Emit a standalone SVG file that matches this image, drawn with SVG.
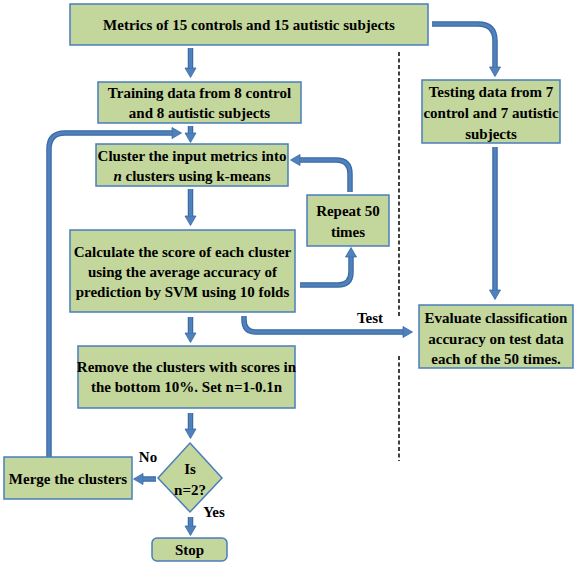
<svg xmlns="http://www.w3.org/2000/svg" width="577" height="566" viewBox="0 0 577 566">
<style>
.b{fill:#c3d69b;stroke:#4a7ebb;stroke-width:1.5}
.t{font-family:"Liberation Serif","Times New Roman",serif;font-weight:bold;font-size:15px;fill:#000;text-anchor:middle}
.o{fill:none;stroke:#3a6aa3;stroke-width:5.5}
.i{fill:none;stroke:#4f81bd;stroke-width:3.2}
.d{fill:none;stroke:#000;stroke-width:1.5;stroke-dasharray:4 2.5}
</style>
<defs>
<marker id="ah" viewBox="-1 -7 12 14" refX="0" refY="0" markerWidth="12" markerHeight="14" orient="auto" markerUnits="userSpaceOnUse">
<path d="M0,-5.5 L9.5,0 L0,5.5 z" fill="#4f81bd" stroke="#3a6aa3" stroke-width="0.8"/>
</marker>
</defs>
<rect width="577" height="566" fill="#fff"/>
<g id="connectors">
<path class="o" marker-end="url(#ah)" d="M190.5,48 V68"/><path class="i" d="M190.5,48 V68"/>
<path class="o" marker-end="url(#ah)" d="M432,24 H478 Q495,24 495,41 V67"/><path class="i" d="M432,24 H478 Q495,24 495,41 V67"/>
<path class="o" marker-end="url(#ah)" d="M190.5,126 V133"/><path class="i" d="M190.5,126 V133"/>
<path class="o" marker-end="url(#ah)" d="M49,457 V149 Q49,133 65,133 H172"/><path class="i" d="M49,457 V149 Q49,133 65,133 H172"/>
<path class="o" marker-end="url(#ah)" d="M190.5,189 V216"/><path class="i" d="M190.5,189 V216"/>
<path class="o" marker-end="url(#ah)" d="M300,285 H338 Q351,285 351,272 V257"/><path class="i" d="M300,285 H338 Q351,285 351,272 V257"/>
<path class="o" marker-end="url(#ah)" d="M350,192 V174 Q350,160 336,160 H300"/><path class="i" d="M350,192 V174 Q350,160 336,160 H300"/>
<path class="o" marker-end="url(#ah)" d="M244,316 V320 Q244,332 256,332 H403"/><path class="i" d="M244,316 V320 Q244,332 256,332 H403"/>
<path class="o" marker-end="url(#ah)" d="M495,147 V290"/><path class="i" d="M495,147 V290"/>
<path class="o" marker-end="url(#ah)" d="M190.5,317 V333"/><path class="i" d="M190.5,317 V333"/>
<path class="o" marker-end="url(#ah)" d="M190.5,413 V429"/><path class="i" d="M190.5,413 V429"/>
<path class="o" marker-end="url(#ah)" d="M156,479 H143"/><path class="i" d="M156,479 H143"/>
<path class="o" marker-end="url(#ah)" d="M190.5,517 V526"/><path class="i" d="M190.5,517 V526"/>
<path class="d" d="M399,52 V316 M399,356 V461"/>
<text class="t" x="370" y="323">Test</text>
<text class="t" x="148" y="462">No</text>
<text class="t" x="214" y="517">Yes</text>
</g>
<g id="metrics"><rect class="b" x="70" y="4" width="358" height="41"/><text class="t" x="249" y="30">Metrics of 15 controls and 15 autistic subjects</text></g>
<g id="training"><rect class="b" x="98" y="82" width="203" height="41"/><text class="t" x="199.5" y="97.5">Training data from 8 control</text><text class="t" x="199.5" y="118">and 8 autistic subjects</text></g>
<g id="testing"><rect class="b" x="422" y="80" width="138" height="63"/><text class="t" x="491" y="97">Testing data from 7</text><text class="t" x="491" y="118">control and 7 autistic</text><text class="t" x="491" y="138.5">subjects</text></g>
<g id="cluster"><rect class="b" x="96" y="144" width="192" height="42"/><text class="t" x="192" y="161">Cluster the input metrics into</text><text class="t" x="192" y="181"><tspan font-style="italic">n</tspan> clusters using k-means</text></g>
<g id="repeat"><rect class="b" x="307" y="195" width="82" height="51"/><text class="t" x="348" y="216">Repeat 50</text><text class="t" x="348" y="237">times</text></g>
<g id="calculate"><rect class="b" x="70" y="230" width="225" height="82"/><text class="t" x="182.5" y="257">Calculate the score of each cluster</text><text class="t" x="182.5" y="277">using the average accuracy of</text><text class="t" x="182.5" y="297">prediction by SVM using 10 folds</text></g>
<g id="evaluate"><rect class="b" x="419" y="305" width="154" height="63"/><text class="t" x="496" y="323">Evaluate classification</text><text class="t" x="496" y="343.5">accuracy on test data</text><text class="t" x="496" y="363.5">each of the 50 times.</text></g>
<g id="remove"><rect class="b" x="78" y="346" width="217" height="62"/><text class="t" x="186.5" y="372">Remove the clusters with scores in</text><text class="t" x="186.5" y="392">the bottom 10%. Set n=1-0.1n</text></g>
<g id="decision"><polygon class="b" points="190,443 222,478 190,512 158,478"/><text class="t" x="190" y="474">Is</text><text class="t" x="190" y="495">n=2?</text></g>
<g id="merge"><rect class="b" x="4" y="457" width="128" height="42"/><text class="t" x="68" y="483.5">Merge the clusters</text></g>
<g id="stop"><rect class="b" x="152" y="538" width="75" height="23" rx="5"/><text class="t" x="189.5" y="555">Stop</text></g>
</svg>
